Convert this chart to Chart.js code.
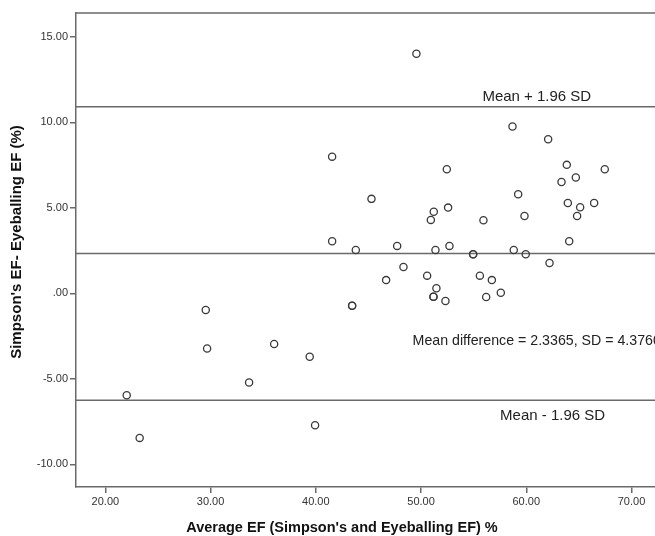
<!DOCTYPE html>
<html>
<head>
<meta charset="utf-8">
<script src="https://cdn.jsdelivr.net/npm/chart.js@4/dist/chart.umd.min.js"></script>
<style>
  html, body { margin: 0; padding: 0; background: #fff; overflow: hidden; }
  #wrap { width: 661px; height: 536px; }
</style>
</head>
<body>
<div id="wrap"><canvas id="my_graph"></canvas></div>
<script>
// average EF (x) and difference Simpson's - eyeballing (y)
const avgEF = [49.56, 58.69, 62.08, 41.55, 52.45, 63.85, 67.46, 64.71, 63.35, 45.29,
  59.23, 51.21, 52.57, 50.93, 55.93, 59.83, 63.95, 65.12, 64.83, 66.45,
  64.08, 41.55, 43.80, 47.73, 51.37, 52.70, 54.95, 54.95, 58.81, 59.95,
  48.33, 46.68, 50.58, 51.46, 51.18, 51.18, 52.32, 55.59, 56.73, 56.19,
  57.58, 62.21, 43.45, 43.45, 29.54, 29.67, 36.04, 39.42, 33.66, 22.03,
  23.26, 39.93];
const diffEF = [14.02, 9.76, 9.02, 8.00, 7.26, 7.52, 7.26, 6.78, 6.52, 5.53,
  5.80, 4.78, 5.02, 4.30, 4.28, 4.53, 5.29, 5.04, 4.53, 5.29,
  3.05, 3.05, 2.54, 2.78, 2.54, 2.78, 2.29, 2.29, 2.54, 2.29,
  1.55, 0.78, 1.04, 0.30, -0.19, -0.19, -0.44, 1.04, 0.78, -0.21,
  0.04, 1.78, -0.72, -0.72, -0.97, -3.22, -2.96, -3.70, -5.21, -5.95,
  -8.45, -7.71];

const meanDiff = 2.3365;
const sdDiff = 4.3760;
const limitNames = ['Mean + 1.96 SD', 'Mean difference = 2.3365, SD = 4.3760', 'Mean - 1.96 SD'];
const limitValues = [meanDiff + 1.96 * sdDiff, meanDiff, meanDiff - 1.96 * sdDiff];

const xTicks = [20, 30, 40, 50, 60, 70];
const yTicks = [-10, -5, 0, 5, 10, 15];
const xRange = [17.21, 72.3];
const yRange = [-11.32, 16.40];

const xTitle = 'Average EF (Simpson\'s and Eyeballing EF) %';
const yTitle = 'Simpson\'s EF- Eyeballing EF (%)';

const lineColor = '#6a6a6a';
const textColor = '#333333';

const fmt = v => {
  const s = Number(v).toFixed(2);
  return s === '0.00' ? '.00' : s;
};

// top frame line, limit labels and axis titles
const extras = {
  id: 'extras',
  afterDraw(chart) {
    const { ctx, chartArea, scales } = chart;
    const x = scales.x, y = scales.y;
    ctx.save();
    ctx.strokeStyle = lineColor;
    ctx.lineWidth = 1.5;
    ctx.beginPath();
    ctx.moveTo(chartArea.left, chartArea.top);
    ctx.lineTo(chartArea.right, chartArea.top);
    ctx.stroke();

    ctx.fillStyle = '#222';
    ctx.textBaseline = 'middle';
    ctx.font = '15px "Liberation Sans", Arial, sans-serif';
    ctx.textAlign = 'center';
    ctx.fillText(limitNames[0], x.getPixelForValue(61.0), y.getPixelForValue(limitValues[0]) - 10);
    ctx.fillText(limitNames[2], x.getPixelForValue(62.5), y.getPixelForValue(limitValues[2]) + 16);
    ctx.font = '14.2px "Liberation Sans", Arial, sans-serif';
    ctx.textAlign = 'left';
    ctx.fillText(limitNames[1], x.getPixelForValue(49.2), y.getPixelForValue(-2.8));

    ctx.fillStyle = '#111';
    ctx.textAlign = 'center';
    ctx.font = 'bold 14.5px "Liberation Sans", Arial, sans-serif';
    ctx.fillText(xTitle, chartArea.left + 266, 528);
    ctx.translate(17, 242);
    ctx.rotate(-Math.PI / 2);
    ctx.font = 'bold 15px "Liberation Sans", Arial, sans-serif';
    ctx.fillText(yTitle, 0, 0);
    ctx.restore();
  }
};

const limitSets = limitValues.map(v => ({
  type: 'line',
  data: [{ x: xRange[0], y: v }, { x: xRange[1], y: v }],
  borderColor: lineColor,
  borderWidth: 1.5,
  pointRadius: 0,
  pointHoverRadius: 0,
  order: 2
}));

new Chart(document.getElementById('my_graph'), {
  type: 'scatter',
  data: {
    datasets: [{
      label: 'EF',
      data: avgEF.map((v, i) => ({ x: v, y: diffEF[i] })),
      pointStyle: 'circle',
      pointRadius: 3.6,
      pointBorderWidth: 1.3,
      pointBorderColor: '#3a3a3a',
      pointBackgroundColor: 'rgba(255,255,255,0)',
      order: 1
    }, ...limitSets]
  },
  options: {
    responsive: true,
    maintainAspectRatio: false,
    animation: false,
    layout: { padding: { top: 13, right: 0, left: 0, bottom: 0 } },
    plugins: { legend: { display: false }, tooltip: { enabled: false } },
    scales: {
      x: {
        type: 'linear',
        min: xRange[0],
        max: xRange[1],
        afterBuildTicks: s => { s.ticks = xTicks.map(v => ({ value: v })); },
        afterFit: s => { s.height = 49; },
        ticks: {
          color: textColor,
          font: { family: '"Liberation Sans", Arial', size: 11 },
          padding: 2,
          maxRotation: 0,
          callback: fmt
        },
        grid: { drawOnChartArea: false, tickLength: 6, color: lineColor, lineWidth: 1.5 },
        border: { color: lineColor, width: 1.5 }
      },
      y: {
        min: yRange[0],
        max: yRange[1],
        afterBuildTicks: s => { s.ticks = yTicks.map(v => ({ value: v })); },
        afterFit: s => { s.width = 76; },
        ticks: {
          color: textColor,
          font: { family: '"Liberation Sans", Arial', size: 11 },
          padding: 2,
          callback: fmt
        },
        grid: { drawOnChartArea: false, tickLength: 6, color: lineColor, lineWidth: 1.5 },
        border: { color: lineColor, width: 1.5 }
      }
    }
  },
  plugins: [extras]
});
</script>
</body>
</html>
